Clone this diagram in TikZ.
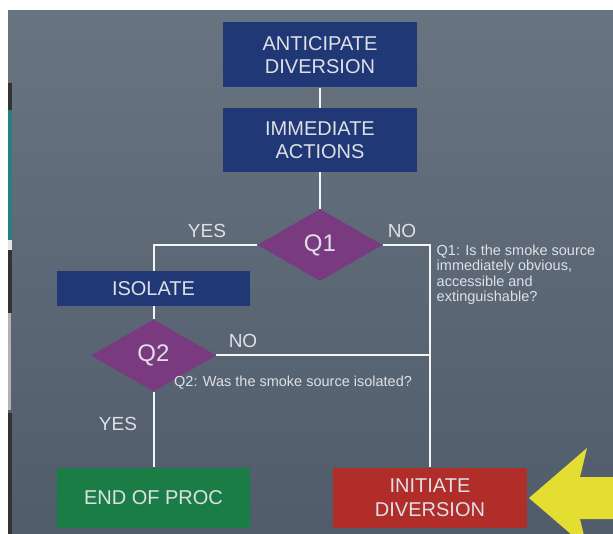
\documentclass[tikz,border=0pt]{standalone}
\usepackage{fontspec}
\setmainfont{Liberation Sans}
\usepackage{tikz}
\usetikzlibrary{shapes.geometric}

\definecolor{bgtop}{RGB}{104,116,128}
\definecolor{bgbot}{RGB}{80,92,106}
\definecolor{navy}{RGB}{32,56,118}
\definecolor{plum}{RGB}{122,58,128}
\definecolor{procgreen}{RGB}{27,125,70}
\definecolor{divred}{RGB}{176,45,42}
\definecolor{arrowyellow}{RGB}{228,222,50}
\definecolor{txt}{RGB}{222,224,230}

\begin{document}
\begin{tikzpicture}[x=1pt, y=-1pt,
        box/.style={rectangle, minimum width=193.5pt, text=txt, align=center, inner sep=0pt, font=\fontsize{20}{23.5}\selectfont},
        ques/.style={diamond, fill=plum, minimum width=125pt, minimum height=72pt, inner sep=0pt, text=txt, font=\fontsize{24}{24}\selectfont},
        answer/.style={text=txt, inner sep=0pt, font=\fontsize{19}{19}\selectfont},
        note/.style={text=txt, align=left, inner sep=0pt, font=\fontsize{14.5}{15.5}\selectfont},
        wire/.style={draw=white!92!gray, line width=2pt}]
                % background
                \useasboundingbox (0,0) rectangle (613,534);
                \fill[white] (0,0) rectangle (613,534);
                \shade[top color=bgtop, bottom color=bgbot] (8,11) rectangle (613,534);
                \fill[black!80] (8,83) rectangle (12,110);
                \fill[teal!70!gray] (8,110) rectangle (12,240);
                \fill[white!80!gray] (8,240) rectangle (12,250);
                \fill[black!80] (8,250) rectangle (12,313);
                \fill[gray!60] (8,313) rectangle (11,410);
                \fill[black!80] (8,413) rectangle (12,534);

                \node[box, fill=navy, minimum height=65pt] (ant) at (320, 55) {ANTICIPATE\\DIVERSION};
                \node[box, fill=navy, minimum height=64pt] (imm) at (320, 140) {IMMEDIATE\\ACTIONS};
                \node[ques] (q1) at (320, 245) {Q1};
                \node[box, fill=navy, minimum height=35pt] (iso) at (153.5, 288.5) {ISOLATE};
                \node[ques] (q2) at (153.5, 355.5) {Q2};
                \node[box, fill=procgreen, minimum height=60pt] (endp) at (153.5, 497.5) {END OF PROC};
                \node[box, fill=divred, minimum height=60pt] (init) at (430, 497.5) {INITIATE\\DIVERSION};

                \node[answer] (yes1) at (207, 231) {YES};
                \node[answer] (no1) at (402, 231) {NO};
                \node[answer] (no2) at (243, 341) {NO};
                \node[answer] (yes2) at (118, 424) {YES};

                \node[note, anchor=north west] (note1) at (436.5, 244.5) {Q1: Is the smoke source\\immediately obvious,\\accessible and\\extinguishable?};
                \node[note, anchor=base west] (note2) at (174, 387) {Q2: Was the smoke source isolated?};

                \draw[wire] (ant) -- (imm);
                \draw[wire] (imm) -- (q1);
                \draw[wire] (q1) -| (iso);
                \draw[wire] (iso) -- (q2);
                \draw[wire] (q2) -- (endp);
                \draw[wire] (q1) -| (init);
                \coordinate (join) at (q2.east -| init.north);
                \draw[wire] (q2) -- (join);

                % yellow pointer
                \begin{scope}
                    \clip (0,0) rectangle (613,534);
                    \fill[arrowyellow] (613,477) -- (580,477) -- (587,448) -- (529,498) -- (587,548) -- (580,519) -- (613,519) -- cycle;
                \end{scope}
            \end{tikzpicture}
\end{document}
